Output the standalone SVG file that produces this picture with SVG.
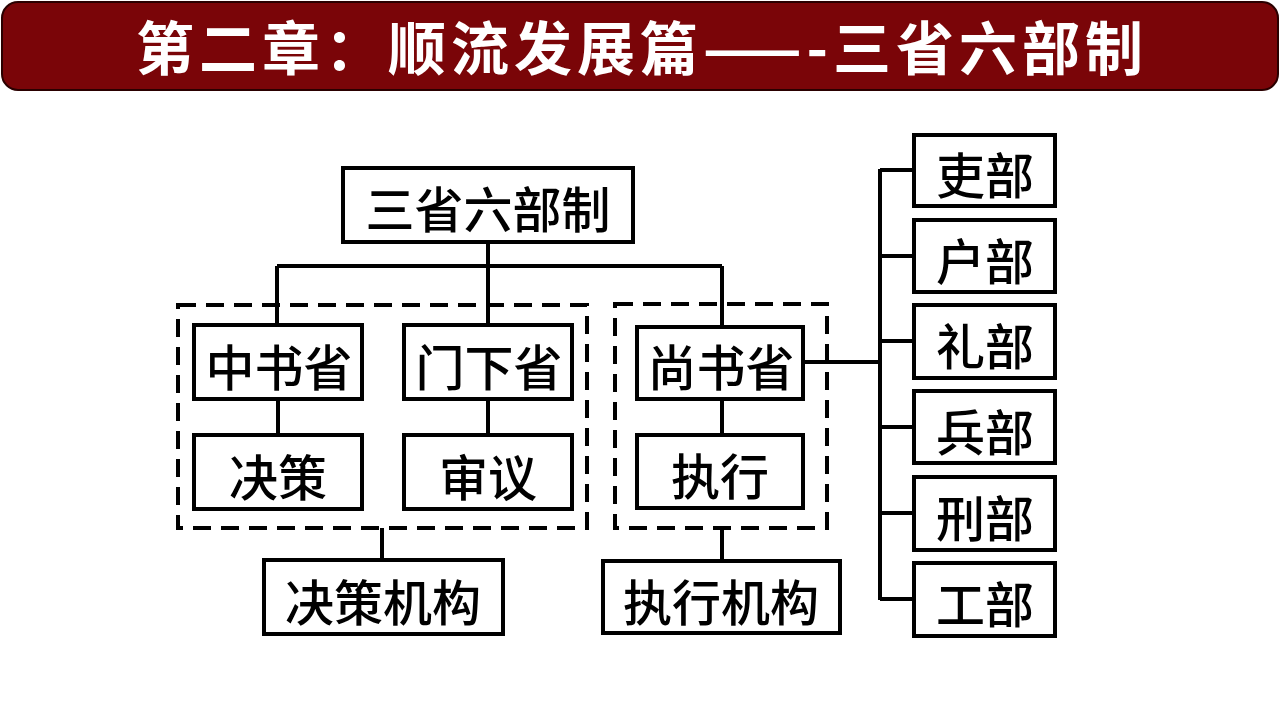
<svg xmlns="http://www.w3.org/2000/svg" width="1280" height="720" viewBox="0 0 1280 720">
<style>
.box{fill:#fff;stroke:#000;stroke-width:4}
.lbl{font-family:"Noto Sans CJK SC","Noto Sans CJK TC",sans-serif;font-size:49px;font-weight:500;fill:#000;text-anchor:middle;dominant-baseline:central}
.ln{stroke:#000;stroke-width:4;fill:none}
.dash{fill:none;stroke:#000;stroke-width:4;stroke-dasharray:18 10}
.title{font-family:"Noto Sans CJK SC","Noto Sans CJK TC",sans-serif;font-size:58px;font-weight:700;fill:#fff;text-anchor:middle;dominant-baseline:central;letter-spacing:5px}
</style>
<rect width="1280" height="720" fill="#fff"/>
<g id="titlebar">
<rect x="2" y="2" width="1276" height="88" rx="16" ry="16" fill="#7a0508" stroke="#2a0000" stroke-width="2"/>
<text class="title" x="642" y="45">第二章：顺流发展篇——-三省六部制</text>
</g>
<g id="connectors">
<path class="ln" d="M488 242 V266 M277 266 H722 M277 266 V325 M488 266 V325 M722 266 V327"/>
<path class="ln" d="M278 399 V435 M488 399 V435 M722 399 V435"/>
<path class="ln" d="M382 528 V560 M722 528 V561"/>
<path class="ln" d="M880 169 V600 M880 170 H914 M880 256 H914 M880 341 H914 M880 427 H914 M880 513 H914 M880 599 H914"/>
<path class="ln" stroke-width="3" d="M803 362 H880"/>
</g>
<g id="groups">
<rect id="decision-group" class="dash" x="178" y="305" width="409" height="223"/>
<rect id="exec-group" class="dash" x="615" y="304" width="212" height="224"/>
</g>
<g id="root"><rect class="box" x="343" y="168" width="290" height="74"/><text class="lbl" x="488" y="206">三省六部制</text></g>
<g id="zhongshu"><rect class="box" x="194" y="325" width="168" height="74"/><text class="lbl" x="279" y="364">中书省</text></g>
<g id="menxia"><rect class="box" x="404" y="325" width="168" height="74"/><text class="lbl" x="489" y="364">门下省</text></g>
<g id="shangshu"><rect class="box" x="637" y="327" width="166" height="72"/><text class="lbl" x="721" y="364">尚书省</text></g>
<g id="juece"><rect class="box" x="194" y="435" width="168" height="74"/><text class="lbl" x="278" y="474">决策</text></g>
<g id="shenyi"><rect class="box" x="404" y="435" width="168" height="74"/><text class="lbl" x="488" y="474">审议</text></g>
<g id="zhixing"><rect class="box" x="637" y="435" width="166" height="73"/><text class="lbl" x="720" y="473">执行</text></g>
<g id="juece-jigou"><rect class="box" x="264" y="560" width="239" height="74"/><text class="lbl" x="383" y="599">决策机构</text></g>
<g id="zhixing-jigou"><rect class="box" x="603" y="561" width="237" height="72"/><text class="lbl" x="721" y="599">执行机构</text></g>
<g id="libu"><rect class="box" x="914" y="135" width="141" height="71"/><text class="lbl" x="985" y="172">吏部</text></g>
<g id="hubu"><rect class="box" x="914" y="220" width="141" height="72"/><text class="lbl" x="985" y="258">户部</text></g>
<g id="libu2"><rect class="box" x="914" y="305" width="141" height="73"/><text class="lbl" x="985" y="343">礼部</text></g>
<g id="bingbu"><rect class="box" x="914" y="391" width="141" height="72"/><text class="lbl" x="985" y="429">兵部</text></g>
<g id="xingbu"><rect class="box" x="914" y="477" width="141" height="73"/><text class="lbl" x="985" y="515">刑部</text></g>
<g id="gongbu"><rect class="box" x="914" y="563" width="141" height="73"/><text class="lbl" x="985" y="601">工部</text></g>
</svg>
